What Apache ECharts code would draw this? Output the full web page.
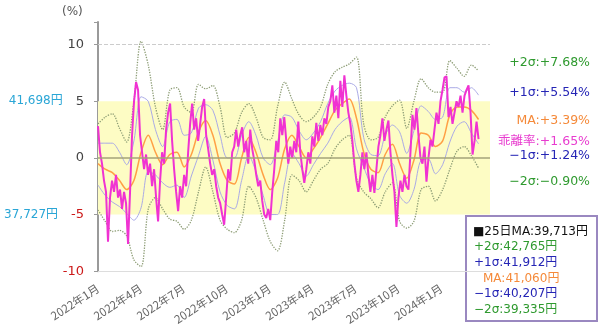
<!DOCTYPE html>
<html><head><meta charset="utf-8">
<script src="https://cdn.jsdelivr.net/npm/echarts@6/dist/echarts.min.js"></script>
<style>html,body{margin:0;padding:0;background:#fff}#c{width:600px;height:327px}</style>
</head><body><div id="c"></div>
<script>
// ---- data ----
const xTickLabels = ['2022年1月','2022年4月','2022年7月','2022年10月','2023年1月','2023年4月','2023年7月','2023年10月','2024年1月'];
const lastMonth = 26.6; // months after 2022年1月 of the last data point
const yenUpper = '41,698円';
const yenLower = '37,727円';

// 乖離率 (%)
const deviation = [2.8,0.5,-0.5,-2.0,-3.0,-7.4,-3.5,-2.0,-3.0,-1.5,-3.5,-2.8,-4.5,-3.0,-4.0,-7.6,-3.0,2.0,5.0,6.7,
6.0,2.0,0.5,-1.0,0.3,-1.5,-0.5,-2.5,-1.0,-3.5,-5.6,-2.0,0.5,-0.5,2.5,4.0,4.8,1.5,-1.0,-3.0,
-4.7,-2.5,-3.5,-1.5,-2.5,0.5,3.0,4.8,2.5,3.5,1.5,3.0,4.5,5.2,2.0,0.8,-0.5,-1.5,-1.0,-2.5,
-3.5,-4.0,-5.0,-5.9,-3.5,-1.0,-2.0,0.5,1.0,2.5,1.0,2.0,2.7,0.5,1.5,-0.5,2.5,0.8,-0.2,-1.5,
-2.5,-2.0,-3.8,-5.0,-5.3,-4.5,-5.5,-3.0,-1.0,1.5,0.5,3.5,2.0,3.6,1.5,-0.5,1.0,0.0,1.5,0.5,
3.2,0.5,-1.0,-2.2,-1.0,0.5,-0.5,1.9,1.0,3.1,1.5,2.9,2.0,3.5,3.0,4.5,5.0,6.4,4.0,5.5,
3.5,6.8,4.5,7.3,5.5,4.0,3.0,1.5,-0.5,-2.0,-3.0,-1.5,0.5,-1.0,0.5,-1.5,-3.0,-1.5,-3.1,-1.0,
1.0,2.0,3.5,1.5,2.5,3.3,0.5,-1.5,-3.0,-6.1,-3.5,-2.0,-3.0,-1.5,-2.5,-2.8,0.5,3.8,2.5,4.4,
2.0,0.0,-0.5,1.0,-2.1,0.0,1.6,1.0,2.5,4.0,3.0,5.0,6.0,7.1,7.2,3.6,4.5,3.0,4.0,5.0,
4.5,5.5,4.0,5.5,6.0,6.4,4.0,0.3,1.5,3.2,1.65];

// MA of 乖離率 and its bands (%)
const maLine = [-0.5,-1.0,-1.3,-2.0,-2.8,-2.0,0.5,2.0,0.5,-0.6,0.3,0.5,-0.8,0.3,2.3,3.3,2.0,-0.5,-2.0,-2.3,
0.0,1.8,0.5,-1.5,-2.8,-1.8,0.8,2.0,1.0,0.0,0.8,1.8,3.0,4.2,4.8,5.2,3.5,0.5,-1.0,-1.3,
0.3,1.2,-0.5,-1.8,-0.2,2.2,2.0,1.0,1.5,3.8,4.5,4.5,4.2,3.39];
const plus2 = [3.0,3.6,3.9,2.6,1.4,5.0,10.3,8.2,4.5,2.5,6.0,6.2,4.5,4.0,6.5,6.1,6.4,4.5,1.8,2.2,
4.0,4.8,3.6,1.8,1.6,4.5,6.7,5.2,3.8,3.2,3.6,4.5,6.5,7.6,8.0,8.3,8.9,3.0,1.6,1.8,
3.6,4.6,5.1,2.6,5.0,7.0,6.2,5.8,5.8,8.6,7.9,7.2,8.2,7.68];
const plus1 = [1.3,1.3,1.3,0.5,-0.6,1.5,5.4,5.0,2.5,1.0,3.2,3.4,2.0,2.2,4.4,4.7,4.2,2.0,0.0,0.0,
2.0,3.2,2.0,0.0,-0.6,1.4,3.8,3.6,2.4,1.6,2.2,3.2,4.8,5.9,6.4,6.6,6.2,1.8,0.3,0.2,
2.0,2.9,2.3,0.4,2.4,4.6,4.1,3.4,3.6,6.2,6.2,5.8,6.2,5.54];
const minus1 = [-2.4,-3.3,-3.9,-4.3,-4.9,-5.5,-4.4,-1.2,-1.5,-2.2,-2.6,-2.4,-3.5,-1.6,0.2,1.9,-0.2,-3.0,-4.2,-4.5,
-2.0,0.2,-1.2,-3.3,-5.0,-5.0,-2.2,0.4,-0.5,-1.6,-0.6,0.4,1.3,2.5,3.2,3.6,0.8,-0.8,-2.3,-2.8,
-1.4,-0.5,-3.3,-4.0,-2.8,-0.2,-0.1,-1.4,-0.6,1.4,2.8,3.2,2.2,1.24];
const minus2 = [-4.6,-5.6,-6.5,-6.4,-6.9,-9.0,-9.6,-4.5,-3.5,-4.5,-5.4,-5.6,-6.3,-5.5,-3.0,-0.8,-3.0,-5.5,-6.3,-6.6,
-5.5,-2.5,-3.5,-5.5,-7.4,-8.2,-5.5,-1.5,-2.0,-3.0,-2.0,-1.0,-0.5,0.8,1.6,2.0,-1.8,-3.0,-3.6,-4.4,
-3.0,-2.2,-5.6,-6.2,-5.6,-2.8,-2.5,-3.8,-2.8,-1.0,0.6,1.0,0.2,-0.90];

const latestLabels = [
  {text:'+2σ:+7.68%', color:'#2f9a2f'},
  {text:'+1σ:+5.54%', color:'#2525b5'},
  {text:'MA:+3.39%', color:'#f58a3a'},
  {text:'乖離率:+1.65%', color:'#e83ccf'},
  {text:'−1σ:+1.24%', color:'#2525b5'},
  {text:'−2σ:−0.90%', color:'#2f9a2f'}
];
const boxLines = [
  {text:'■25日MA:39,713円', color:'#111111', indent:0},
  {text:'+2σ:42,765円', color:'#2f9a2f', indent:1},
  {text:'+1σ:41,912円', color:'#2525b5', indent:1},
  {text:'MA:41,060円', color:'#f58a3a', indent:10},
  {text:'−1σ:40,207円', color:'#2525b5', indent:1},
  {text:'−2σ:39,335円', color:'#2f9a2f', indent:1}
];

// ---- chart ----
const toXY = arr => arr.map((v, i) => [i * lastMonth / (arr.length - 1), v]);
const FONT = '"DejaVu Sans","Noto Sans CJK JP",sans-serif';

const chart = echarts.init(document.getElementById('c'), null, {renderer:'canvas'});

const rightY = [63, 93, 121, 142, 156, 182];
const graphics = [
  {type:'text', left:62, top:6, style:{text:'(%)', fill:'#555', font:'12px ' + FONT}}
];
latestLabels.forEach((l, i) => {
  graphics.push({type:'text', x:590, y:rightY[i],
    style:{text:l.text, fill:l.color, font:'12.5px ' + FONT, align:'right', textAlign:'right', verticalAlign:'middle', textVerticalAlign:'middle'}});
});
const boxChildren = [
  {type:'rect', shape:{x:0, y:0, width:131, height:105}, style:{fill:'#fff', stroke:'#9a88c0', lineWidth:2}}
];
boxLines.forEach((l, i) => {
  boxChildren.push({type:'text', x:7 + l.indent, y:15.5 + i * 15.7,
    style:{text:l.text, fill:l.color, font:'12px ' + FONT, verticalAlign:'middle', textVerticalAlign:'middle'}});
});
graphics.push({type:'group', x:466, y:216, z:100, children:boxChildren});

const bandLine = (name, data, color, type, width) => ({
  name, type:'line', data:toXY(data), showSymbol:false, smooth:0.3,
  lineStyle:{color, type, width}, z:2, silent:true
});

chart.setOption({
  animation:false,
  grid:{left:98, right:110, top:22, bottom:55},
  xAxis:{type:'value', min:0, max:27.4, interval:3,
    axisLine:{onZero:false, lineStyle:{color:'#dddddd', width:1}},
    axisTick:{show:false}, splitLine:{show:false},
    axisLabel:{rotate:33, fontSize:11.5, color:'#666', margin:16, fontFamily:'"Noto Sans CJK JP",sans-serif',
      formatter:v => { const i = v / 3; return (Number.isInteger(i) && xTickLabels[i]) || ''; }}
  },
  yAxis:{type:'value', min:-10, max:12, interval:5,
    axisLine:{show:true, lineStyle:{color:'#9a9a9a', width:2}},
    axisTick:{show:true, length:4, lineStyle:{color:'#9a9a9a'}},
    splitLine:{show:false},
    axisLabel:{margin:14, fontFamily:FONT,
      formatter:v => {
        if (v > 10) return '';
        if (v === 5) return '{yen|' + yenUpper + '}{gap|}{pos|5}';
        if (v === -5) return '{yen|' + yenLower + '}{gap|}{neg|-5}';
        return v < 0 ? '{neg|' + v + '}' : '{pos|' + v + '}';
      },
      rich:{
        yen:{color:'#2aa6d6', fontSize:12, fontFamily:FONT},
        gap:{width:13},
        pos:{color:'#444', fontSize:13, fontFamily:FONT},
        neg:{color:'#cc1a1a', fontSize:13, fontFamily:FONT}
      }
    }
  },
  series:[
    Object.assign(bandLine('+2σ', plus2, '#8c9c74', 'dotted', 1.3), {
      markArea:{silent:true, itemStyle:{color:'#fdfcc4'}, data:[[{yAxis:-5},{yAxis:5}]]},
      markLine:{silent:true, symbol:'none', label:{show:false},
        data:[
          {yAxis:10, lineStyle:{type:'dashed', color:'#cccccc', width:1}},
          {yAxis:0, lineStyle:{type:'solid', color:'#a3a37a', width:1.5}}
        ]}
    }),
    bandLine('-2σ', minus2, '#8c9c74', 'dotted', 1.3),
    bandLine('+1σ', plus1, '#aaaae6', 'solid', 1),
    bandLine('-1σ', minus1, '#aaaae6', 'solid', 1),
    {name:'MA', type:'line', data:toXY(maLine), showSymbol:false, smooth:0.3,
      lineStyle:{color:'#ffa045', width:1.5}, z:3, silent:true},
    {name:'乖離率', type:'line', data:toXY(deviation), showSymbol:false,
      lineStyle:{color:'#f032d2', width:2}, z:4, silent:true}
  ],
  graphic:graphics
});
</script></body></html>
